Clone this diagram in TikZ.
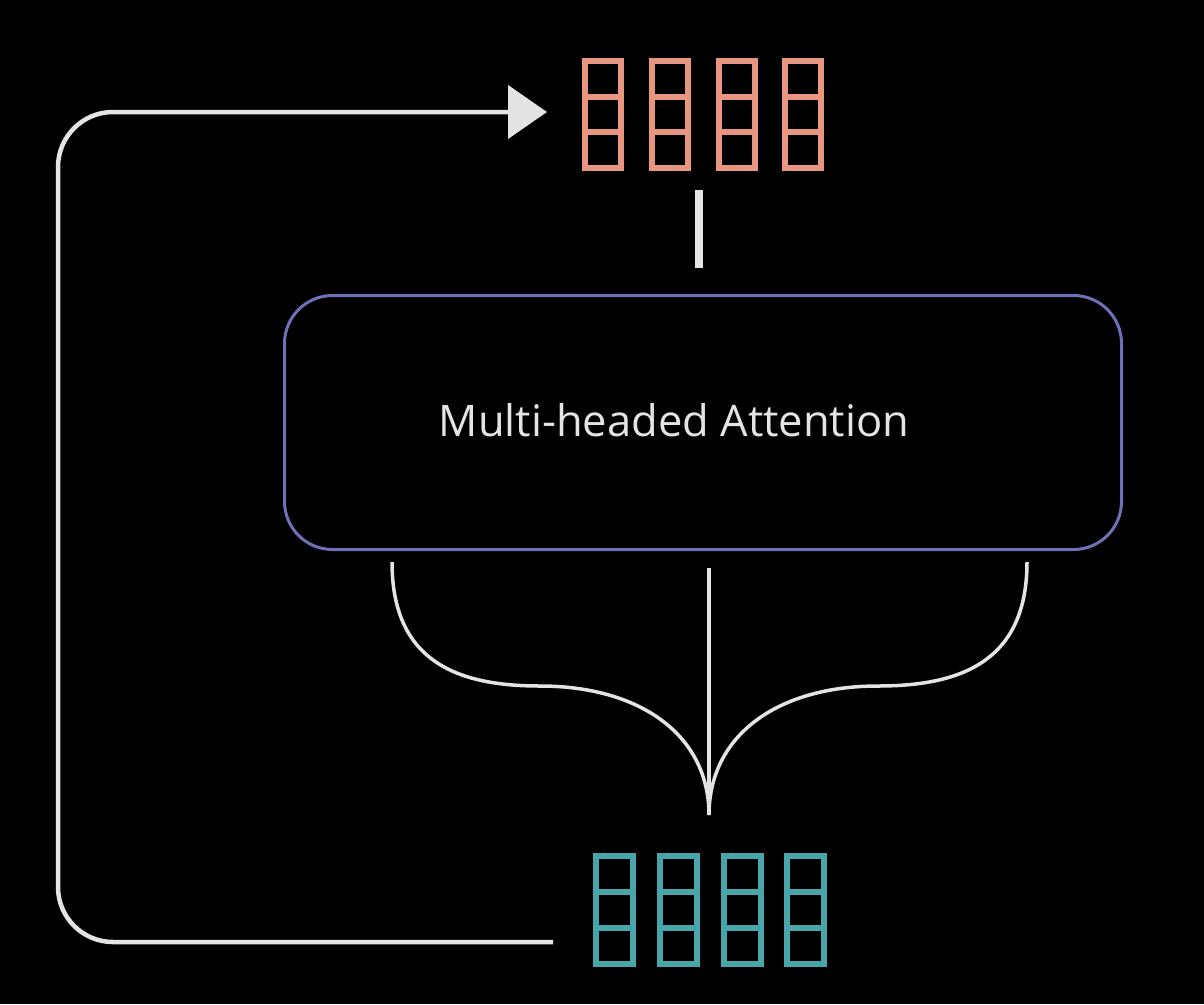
\documentclass[tikz,border=0pt]{standalone}
\usepackage{fontspec}
\setmainfont{Open Sans}
\usetikzlibrary{arrows.meta,calc}
\definecolor{salmon}{RGB}{232,150,128}
\definecolor{teal}{RGB}{72,166,170}
\definecolor{lavender}{RGB}{112,112,184}
\definecolor{wire}{RGB}{228,228,228}
\tikzset{
  outvec/.style={draw=salmon,line width=6,minimum width=36,minimum height=107,inner sep=0,outer sep=0},
  invec/.style={draw=teal,line width=6,minimum width=37,minimum height=108,inner sep=0,outer sep=0},
  attn/.style={draw=lavender,line width=3,rounded corners=48,minimum width=837,minimum height=254,inner sep=0,outer sep=0},
  wires/.style={draw=wire,line width=3.5},
  feedback/.style={draw=wire,line width=4.5,rounded corners=55,-{Triangle[length=39,width=53]}},
}
\begin{document}
\begin{tikzpicture}[x=1pt,y=-1pt]
  \useasboundingbox[fill=black] (0,0) rectangle (1204,1004);
  % output vectors
  \foreach \i/\x in {1/603,2/670,3/737,4/803}{
    \node[outvec] (out\i) at (\x,114.5) {};
    \draw[salmon,line width=6] ($(out\i.north west)!1/3!(out\i.south west)$) -- ($(out\i.north east)!1/3!(out\i.south east)$);
    \draw[salmon,line width=6] ($(out\i.north west)!2/3!(out\i.south west)$) -- ($(out\i.north east)!2/3!(out\i.south east)$);
  }
  % input vectors
  \foreach \i/\x in {1/614.5,2/678,3/742,4/805.5}{
    \node[invec] (in\i) at (\x,910) {};
    \draw[teal,line width=6] ($(in\i.north west)!1/3!(in\i.south west)$) -- ($(in\i.north east)!1/3!(in\i.south east)$);
    \draw[teal,line width=6] ($(in\i.north west)!2/3!(in\i.south west)$) -- ($(in\i.north east)!2/3!(in\i.south east)$);
  }
  % attention block
  \node[attn] (mha) at (703,422.5) {};
  \node[text=wire,font=\fontsize{43.5}{52}\selectfont] (mhatext) at (674,420) {Multi-headed Attention};
  % stem to output
  \coordinate (stemtop) at (699,190);
  \coordinate (stembot) at (699,268);
  \draw[draw=wire,line width=8] (stemtop) -- (stembot);
  % fan of heads
  \coordinate (fanL) at (392,562);
  \coordinate (fanR) at (1027,562);
  \coordinate (fanC) at (709,568);
  \coordinate (fanTip) at (709,815);
  \draw[wires] (fanC) -- (fanTip);
  \draw[wires] (fanL) .. controls (392,660) and (455,686) .. (540,686) .. controls (640,686) and (709,735) .. (fanTip);
  \draw[wires] (fanR) .. controls (1027,660) and (963,686) .. (878,686) .. controls (778,686) and (709,735) .. (fanTip);
  % residual loop
  \coordinate (loopstart) at (553,942);
  \coordinate (looptip) at (547,112);
  \draw[feedback] (loopstart) -- (58,942) -- (58,112) -- (looptip);
\end{tikzpicture}
\end{document}
